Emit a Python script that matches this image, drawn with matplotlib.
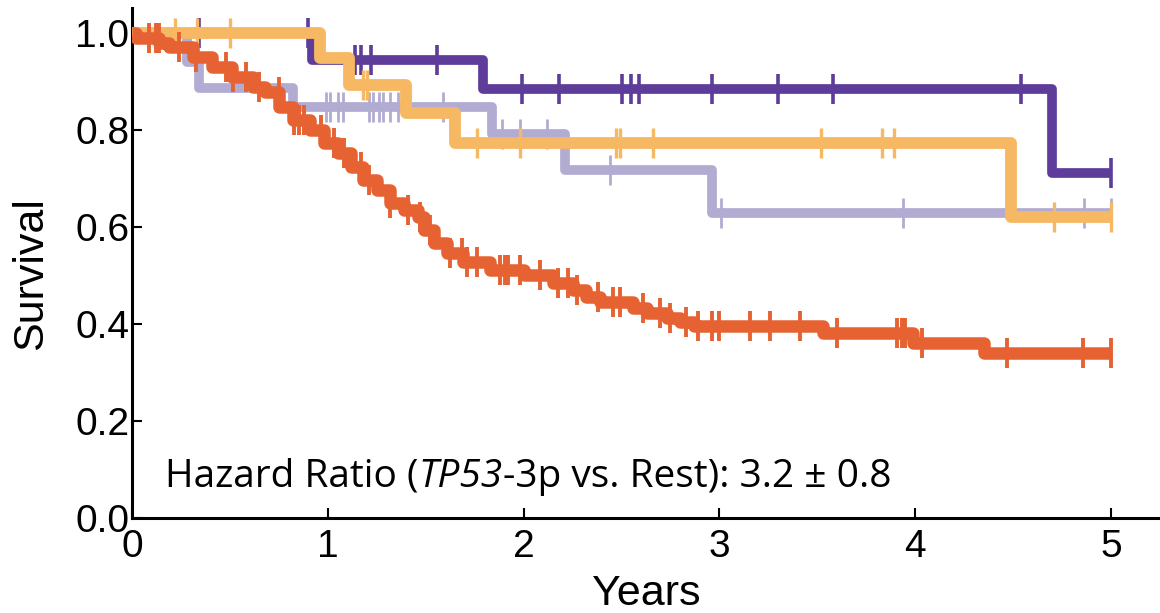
import numpy as np
import matplotlib.pyplot as plt
from matplotlib.offsetbox import TextArea, HPacker, AnchoredOffsetbox

plt.rcParams['font.family'] = ['Liberation Sans', 'DejaVu Sans']

END = 5.0

# ── Kaplan-Meier curves: step times (years) and survival after each step ──
purple_t = [0.0, 0.92, 1.79, 4.70]
purple_s = [1.0, 0.944, 0.884, 0.711]
purple_c = [0.34, 0.90, 1.14, 1.17, 1.22, 1.56, 1.99, 2.18, 2.50, 2.55, 2.59,
            2.96, 3.30, 3.58, 4.54, 5.0]

lav_t = [0.0, 0.28, 0.34, 0.82, 1.84, 2.21, 2.96]
lav_s = [1.0, 0.94, 0.887, 0.848, 0.792, 0.718, 0.629]
lav_c = [0.99, 1.01, 1.05, 1.08, 1.21, 1.23, 1.26, 1.28, 1.32, 1.36, 1.59,
         1.89, 1.98, 2.12, 2.44, 3.01, 3.94, 4.86, 5.0]

orange_t = [0.0, 0.96, 1.11, 1.40, 1.65, 4.49]
orange_s = [1.0, 0.948, 0.893, 0.835, 0.773, 0.62]
orange_c = [0.22, 0.33, 0.50, 1.18, 1.20, 1.76, 1.98, 2.47, 2.49, 2.66, 3.52,
            3.83, 3.89, 4.71, 5.0]

red_t = [0.0, 0.02, 0.14, 0.19, 0.31, 0.41, 0.51, 0.62, 0.68, 0.75, 0.82, 0.91,
         0.98, 1.05, 1.12, 1.18, 1.25, 1.32, 1.39, 1.46, 1.49, 1.54, 1.61, 1.69,
         1.83, 2.00, 2.15, 2.25, 2.32, 2.39, 2.56, 2.63, 2.73, 2.80, 2.87, 3.53,
         3.99, 4.35]
red_s = [1.0, 0.99, 0.98, 0.971, 0.95, 0.93, 0.909, 0.889, 0.878, 0.847, 0.82,
         0.80, 0.773, 0.753, 0.724, 0.697, 0.676, 0.649, 0.635, 0.62, 0.594,
         0.567, 0.546, 0.528, 0.511, 0.501, 0.484, 0.47, 0.456, 0.445, 0.433,
         0.423, 0.412, 0.405, 0.395, 0.381, 0.361, 0.34]
red_c = [0.087, 0.122, 0.138, 0.240, 0.326, 0.479, 0.515, 0.581, 0.647, 0.749,
         0.826, 0.851, 0.877, 0.963, 1.030, 1.081, 1.167, 1.208, 1.320, 1.407,
         1.473, 1.524, 1.626, 1.687, 1.713, 1.764, 1.881, 1.906, 1.922, 1.983,
         2.085, 2.176, 2.227, 2.273, 2.380, 2.457, 2.492, 2.610, 2.696, 2.747,
         2.829, 2.890, 2.961, 2.997, 3.155, 3.257, 3.410, 3.598, 3.909, 3.930,
         3.950, 4.037, 4.470, 4.857, 5.0]

series = [
    (lav_t, lav_s, lav_c, '#b2abd2', 7.0, 2.0, 2),
    (purple_t, purple_s, purple_c, '#5e3c99', 7.0, 2.6, 3),
    (orange_t, orange_s, orange_c, '#f6b863', 8.5, 2.4, 4),
    (red_t, red_s, red_c, '#e66232', 9.0, 2.8, 5),
]

fig = plt.figure(figsize=(11.6, 6.13), dpi=100)
ax = fig.add_axes([0.1138, 0.155, 0.8862, 0.832])

for t, s, c, col, lw, mew, z in series:
    t = np.array(t + [END])
    s = np.array(s + [s[-1]])
    ax.step(t, s, where='post', color=col, lw=lw, zorder=z,
            solid_joinstyle='round', solid_capstyle='butt')
    c = np.array(c)
    cy = s[np.searchsorted(t, c, side='right') - 1]
    cy[c >= END] = s[-1]
    ax.plot(c, cy, ls='none', marker='|', ms=22, mew=mew, color=col, zorder=z)

ax.set_xlim(0, 5.25)
ax.set_ylim(0, 1.052)
ax.set_xticks([0, 1, 2, 3, 4, 5])
ax.set_yticks([0.0, 0.2, 0.4, 0.6, 0.8, 1.0])
ax.set_yticklabels(['0.0', '0.2', '0.4', '0.6', '0.8', '1.0'])
ax.tick_params(direction='in', length=7, width=1.5, labelsize=28)
ax.tick_params(axis='y', pad=2)
ax.tick_params(axis='x', pad=8)
for side in ['top', 'right']:
    ax.spines[side].set_visible(False)
for side in ['left', 'bottom']:
    ax.spines[side].set_linewidth(2.2)

ax.set_xlabel('Years', fontsize=31)
ax.xaxis.set_label_coords(0.5, -0.11)
ax.set_ylabel('Survival', fontsize=31)
ax.yaxis.set_label_coords(-0.079, 0.48)

# hazard ratio note, gene name in italics
props = dict(family='Open Sans', size=28, color='black')
parts = [TextArea('Hazard Ratio (', textprops=props),
         TextArea('TP53', textprops=dict(props, style='italic')),
         TextArea('-3p vs. Rest): 3.2 \u00b1 0.8', textprops=props)]
note = HPacker(children=parts, align='baseline', pad=0, sep=0)
box = AnchoredOffsetbox(loc='center left', child=note, pad=0, borderpad=0,
                        frameon=False, bbox_to_anchor=(0.17, 0.085),
                        bbox_transform=ax.transData)
box.set_zorder(6)
ax.add_artist(box)

fig.savefig('out.png', dpi=100)
